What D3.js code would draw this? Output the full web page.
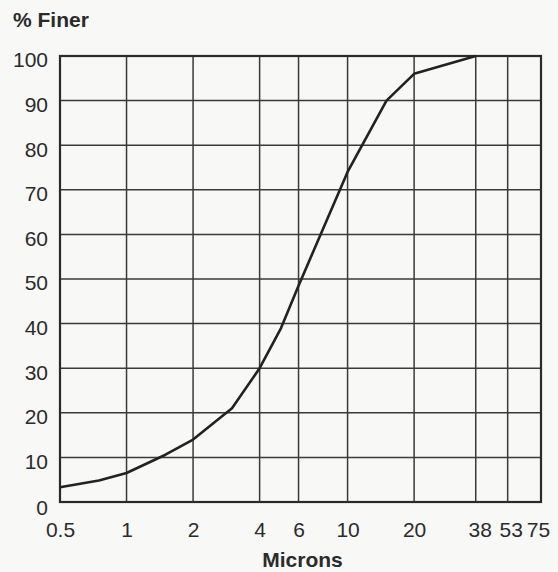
<!DOCTYPE html>
<html>
<head>
<meta charset="utf-8">
<script src="https://cdn.jsdelivr.net/npm/d3@7"></script>
<style>
  body { margin: 0; background: #f8f8f7; }
  svg { display: block; }
  text { font-family: "Liberation Sans", Arial, sans-serif; fill: #2b2b2b; }
</style>
</head>
<body>
<svg id="chart" width="558" height="572"></svg>
<script>
// particle size (microns) vs cumulative % finer
const MICRONS = [0.5, 0.75, 1, 1.5, 2, 3, 4, 5, 6, 10, 15, 20, 38]
const FINER = [3.3, 4.8, 6.5, 10.6, 14, 21, 30, 39, 48.5, 74, 90, 96, 100]
const X_TICKS = [0.5, 1, 2, 4, 6, 10, 20, 38, 53, 75]
const Y_TICKS = [0, 10, 20, 30, 40, 50, 60, 70, 80, 90, 100]

const M = { top: 56, right: 17, bottom: 70, left: 60 }
const W = 558, H = 572
const svg = d3.select('#chart')

const x = d3.scaleLog().domain([0.5, 75]).range([M.left, W - M.right])
const y = d3.scaleLinear().domain([0, 100]).range([H - M.bottom, M.top])

const GRID = '#3a3a3a'

// grid
svg.append('g')
  .selectAll('line')
  .data(X_TICKS)
  .join('line')
  .attr('x1', d => x(d)).attr('x2', d => x(d))
  .attr('y1', y(0)).attr('y2', y(100))
  .attr('stroke', GRID).attr('stroke-width', 1.5)

svg.append('g')
  .selectAll('line')
  .data(Y_TICKS)
  .join('line')
  .attr('x1', x(0.5)).attr('x2', x(75))
  .attr('y1', d => y(d)).attr('y2', d => y(d))
  .attr('stroke', GRID).attr('stroke-width', 1.5)

// frame
svg.append('rect')
  .attr('x', x(0.5)).attr('y', y(100))
  .attr('width', x(75) - x(0.5)).attr('height', y(0) - y(100))
  .attr('fill', 'none').attr('stroke', '#2a2a2a').attr('stroke-width', 2.2)

// axes labels (drawn with d3 axes, domain/ticks hidden)
const xAxis = svg.append('g')
  .attr('transform', `translate(0,${y(0)})`)
  .call(d3.axisBottom(x).tickValues(X_TICKS).tickFormat(d => d).tickSize(0).tickPadding(20))
xAxis.select('.domain').remove()
xAxis.selectAll('text')
  .attr('font-size', 21)
  .attr('font-family', '"Liberation Sans", Arial, sans-serif')
  .attr('fill', '#2b2b2b')
  .attr('dx', d => d === 38 ? 4 : d === 53 ? 3 : d === 75 ? -3 : 0)

const yAxis = svg.append('g')
  .attr('transform', `translate(${x(0.5)},0)`)
  .call(d3.axisLeft(y).tickValues(Y_TICKS).tickSize(0).tickPadding(12))
yAxis.select('.domain').remove()
yAxis.selectAll('text')
  .attr('font-size', 21)
  .attr('font-family', '"Liberation Sans", Arial, sans-serif')
  .attr('fill', '#2b2b2b')
  .attr('dy', d => d === 0 ? '0.6em' : '0.52em')

// curve
const line = d3.line()
  .x((d, i) => x(MICRONS[i]))
  .y(d => y(d))

svg.append('path')
  .datum(FINER)
  .attr('d', line)
  .attr('fill', 'none')
  .attr('stroke', '#222')
  .attr('stroke-width', 2.6)
  .attr('stroke-linejoin', 'round')

// titles
svg.append('text')
  .attr('x', 13).attr('y', 27)
  .attr('font-size', 21).attr('font-weight', 'bold')
  .text('% Finer')

svg.append('text')
  .attr('x', (x(0.5) + x(75)) / 2 + 2).attr('y', 567)
  .attr('text-anchor', 'middle')
  .attr('font-size', 21).attr('font-weight', 'bold')
  .text('Microns')
</script>
</body>
</html>
